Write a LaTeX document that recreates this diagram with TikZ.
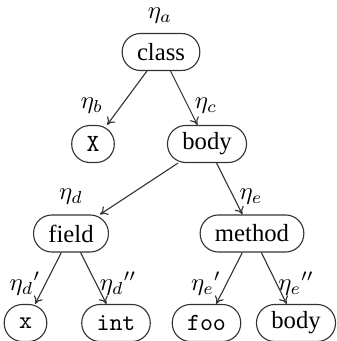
\documentclass[tikz,border=0pt]{standalone}
\usepackage{fontspec}
\setmainfont{Liberation Serif}
\usetikzlibrary{arrows.meta}
\begin{document}
\begin{tikzpicture}[x=0.405pt,y=-0.405pt,
  tnode/.style={draw=black!80, line width=0.45pt, rounded corners=7.4pt, minimum height=15pt, inner xsep=6pt, inner ysep=2pt, font=\fontsize{10}{12}\selectfont},
  lab/.style={inner sep=0pt, font=\fontsize{10}{12}\selectfont},
  edge/.style={draw=black!80, line width=0.45pt, -{To[length=3pt,width=4pt]}}]
\useasboundingbox (0,0) rectangle (337,341);
\node[tnode] (class) at (161,52) {class};
\node[tnode] (X) at (93,144) {\texttt{X}};
\node[tnode] (body) at (207,144) {body};
\node[tnode] (field) at (71,233.5) {field};
\node[tnode] (method) at (252,233.5) {method};
\node[tnode] (x) at (25.5,323) {\texttt{x}};
\node[tnode] (int) at (116,323) {\texttt{int}};
\node[tnode] (foo) at (206.5,323) {\texttt{foo}};
\node[tnode] (body2) at (296,323) {body};
\node[lab] (la) at (160,16) {$\eta_a$};
\node[lab] (lb) at (92,106) {$\eta_b$};
\node[lab] (lc) at (206,106) {$\eta_c$};
\node[lab] (ld) at (71,197) {$\eta_d$};
\node[lab] (le) at (251,197) {$\eta_e$};
\node[lab] (ld1) at (25,284) {${\eta_d}'$};
\node[lab] (ld2) at (118,284) {${\eta_d}''$};
\node[lab] (le1) at (206,284) {${\eta_e}'$};
\node[lab] (le2) at (296,284) {${\eta_e}''$};
\draw[edge] (class) -- (X);
\draw[edge] (class) -- (body);
\draw[edge] (body) -- (field);
\draw[edge] (body) -- (method);
\draw[edge] (field) -- (x);
\draw[edge] (field) -- (int);
\draw[edge] (method) -- (foo);
\draw[edge] (method) -- (body2);
\end{tikzpicture}
\end{document}
